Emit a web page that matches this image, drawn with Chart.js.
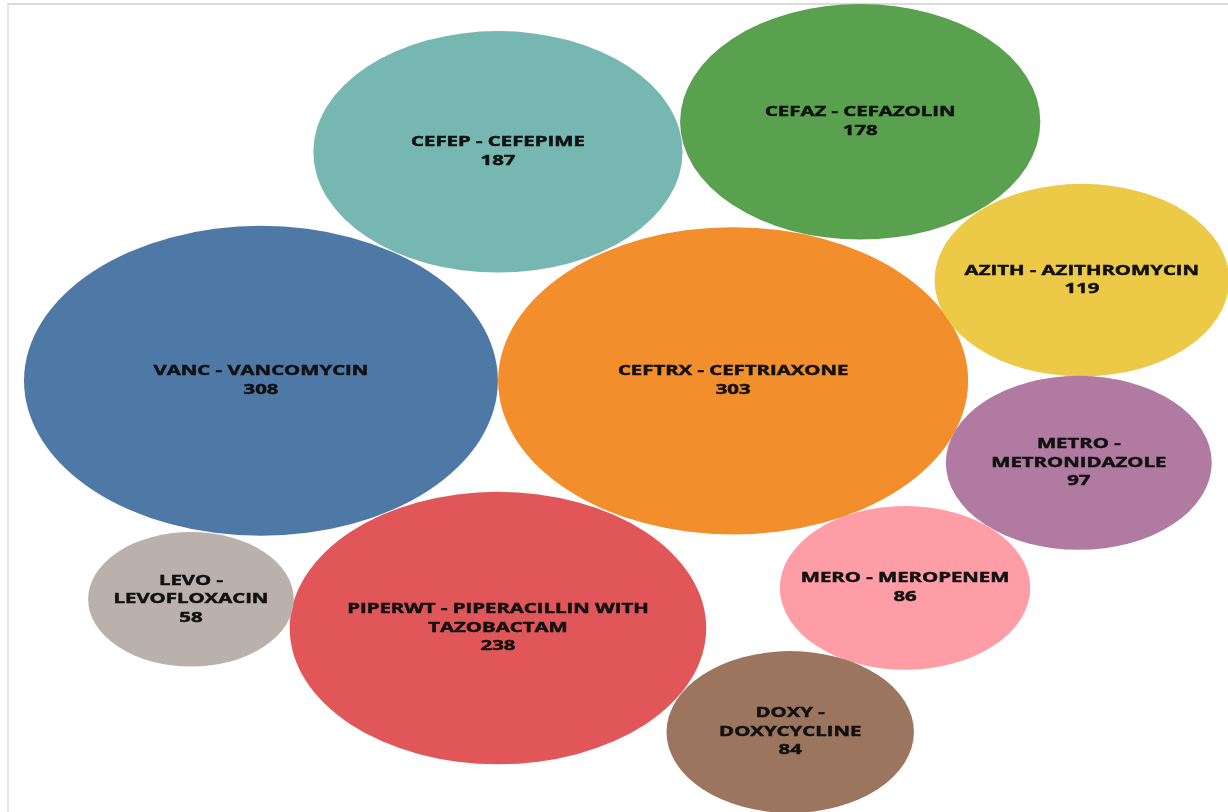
<!DOCTYPE html>
<html>
<head>
<meta charset="utf-8">
<script src="https://cdn.jsdelivr.net/npm/chart.js@4.4.1/dist/chart.umd.min.js"></script>
<style>
  html, body { margin: 0; padding: 0; background: #fff; }
  #wrap { position: relative; width: 1228px; height: 812px; overflow: hidden; }
  #frame { position: absolute; left: 7px; top: 3px; right: 0; bottom: 0;
           border-left: 2px solid #e6e6e6; border-top: 2px solid #dadada; }
  canvas { position: absolute; left: 0; top: 0; }
</style>
</head>
<body>
<div id="wrap">
  <div id="frame"></div>
  <canvas id="bubbleChart" width="1228" height="812"></canvas>
</div>
<script>
// Antibiotic order counts
const drugs = [
  "VANC - VANCOMYCIN",
  "CEFTRX - CEFTRIAXONE",
  "PIPERWT - PIPERACILLIN WITH TAZOBACTAM",
  "CEFEP - CEFEPIME",
  "CEFAZ - CEFAZOLIN",
  "AZITH - AZITHROMYCIN",
  "METRO - METRONIDAZOLE",
  "MERO - MEROPENEM",
  "DOXY - DOXYCYCLINE",
  "LEVO - LEVOFLOXACIN"
];
const counts = [308, 303, 238, 187, 178, 119, 97, 86, 84, 58];

// packed layout, in axis units (x 0-100 left to right, y 0-100 top to bottom)
const bubbleX = [21.25, 59.7, 40.55, 40.55, 70.05, 88.1, 87.85, 73.7, 64.35, 15.55];
const bubbleY = [46.9, 46.9, 77.35, 18.7, 15.0, 34.5, 57.0, 72.4, 90.15, 73.8];

const colors = ['#4E79A7', '#F28E2B', '#E15759', '#76B7B2', '#59A14F',
                '#EDC948', '#B07AA1', '#FF9DA7', '#9C755F', '#BAB0AC'];

// bubble area follows the count; bubbles and labels are stretched sideways
const radiusPerRoot = 8.83;
const stretch = 1.529;

function wrapLabel(ctx, text, maxWidth) {
  const words = text.split(' ');
  const lines = [];
  let line = '';
  words.forEach(w => {
    const test = line ? line + ' ' + w : w;
    if (line && ctx.measureText(test).width * stretch > maxWidth) {
      lines.push(line);
      line = w;
    } else {
      line = test;
    }
  });
  if (line) lines.push(line);
  return lines;
}

const ellipsePlugin = {
  id: 'ellipseBubbles',
  afterDatasetsDraw(chart) {
    const ctx = chart.ctx;
    const meta = chart.getDatasetMeta(0);
    meta.data.forEach((el, i) => {
      const r = el.options.radius;
      ctx.save();
      ctx.beginPath();
      ctx.ellipse(el.x, el.y, r * stretch, r, 0, 0, Math.PI * 2);
      ctx.fillStyle = colors[i];
      ctx.fill();
      ctx.restore();
    });
    meta.data.forEach((el, i) => {
      const r = el.options.radius;
      ctx.save();
      ctx.font = 'bold 13.3px "Open Sans", sans-serif';
      ctx.fillStyle = '#111';
      ctx.strokeStyle = '#111';
      ctx.lineWidth = 0.45;
      ctx.textAlign = 'center';
      ctx.textBaseline = 'middle';
      const lines = wrapLabel(ctx, drugs[i], r * stretch * 1.7);
      lines.push(String(counts[i]));
      const lh = 18.5;
      const top = el.y - (lines.length - 1) * lh / 2;
      lines.forEach((t, j) => {
        ctx.save();
        ctx.translate(el.x, top + j * lh);
        ctx.scale(stretch, 1);
        ctx.fillText(t, 0, 0);
        ctx.strokeText(t, 0, 0);
        ctx.restore();
      });
      ctx.restore();
    });
  }
};

new Chart(document.getElementById('bubbleChart'), {
  type: 'bubble',
  data: {
    datasets: [{
      label: 'Orders',
      data: counts.map((v, i) => ({
        x: bubbleX[i],
        y: bubbleY[i],
        r: radiusPerRoot * Math.sqrt(v)
      })),
      backgroundColor: 'rgba(0,0,0,0)',
      borderWidth: 0,
      hoverRadius: 0
    }]
  },
  options: {
    responsive: false,
    animation: false,
    layout: { padding: 0, autoPadding: false },
    clip: false,
    plugins: { legend: { display: false }, tooltip: { enabled: false } },
    scales: {
      x: { type: 'linear', min: 0, max: 100, display: false },
      y: { type: 'linear', min: 0, max: 100, reverse: true, display: false }
    }
  },
  plugins: [ellipsePlugin]
});
</script>
</body>
</html>
